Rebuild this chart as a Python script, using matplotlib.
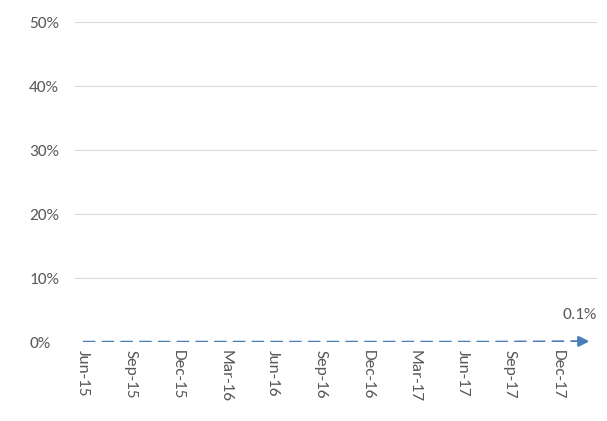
import matplotlib
matplotlib.use('Agg')
import matplotlib.pyplot as plt
import pandas as pd

plt.rcParams['font.family'] = ['Calibri', 'Carlito', 'DejaVu Sans']

months = pd.date_range('2015-06-01', '2018-02-01', freq='MS')
labels = [d.strftime('%b-%y') for d in months]
values = [0.0] * 27 + [0.0002, 0.0003, 0.0004, 0.0006, 0.0008, 0.001]

fig = plt.figure(figsize=(6.07, 4.21), dpi=100)
ax = fig.add_axes([75 / 607, (421 - 342) / 421, 522 / 607, 320 / 421])
x = list(range(len(values)))
ax.plot(x, values, color='#4A7EBB', lw=1.8, dashes=(5, 2.5))
ax.annotate('', xy=(x[-1] + 0.2, values[-1]), xytext=(x[-1] - 0.8, values[-1]),
            arrowprops=dict(arrowstyle='-|>', color='#4A7EBB', lw=1.8, mutation_scale=15))
ax.text(x[-1] + 0.5, values[-1] + 0.03, '0.1%', ha='right', va='bottom', color='#595959', fontsize=12.5)

ax.set_xlim(-0.5, len(values) - 0.5)
ax.set_ylim(0, 0.5)
ax.set_yticks([0, 0.1, 0.2, 0.3, 0.4, 0.5])
ax.set_yticklabels(['0%', '10%', '20%', '30%', '40%', '50%'], color='#595959', fontsize=12.5, ha='left')
ax.set_xticks(x[::3])
ax.set_xticklabels(labels[::3], rotation=-90, color='#595959', fontsize=12.5)
ax.tick_params(length=0, pad=6)
ax.tick_params(axis='y', pad=33)
ax.grid(axis='y', color='#D9D9D9', lw=0.8)
ax.set_axisbelow(True)
for s in ax.spines.values():
    s.set_visible(False)
ax.axhline(0, color='#D9D9D9', lw=0.8, zorder=0)

fig.savefig('out.png', dpi=100)
